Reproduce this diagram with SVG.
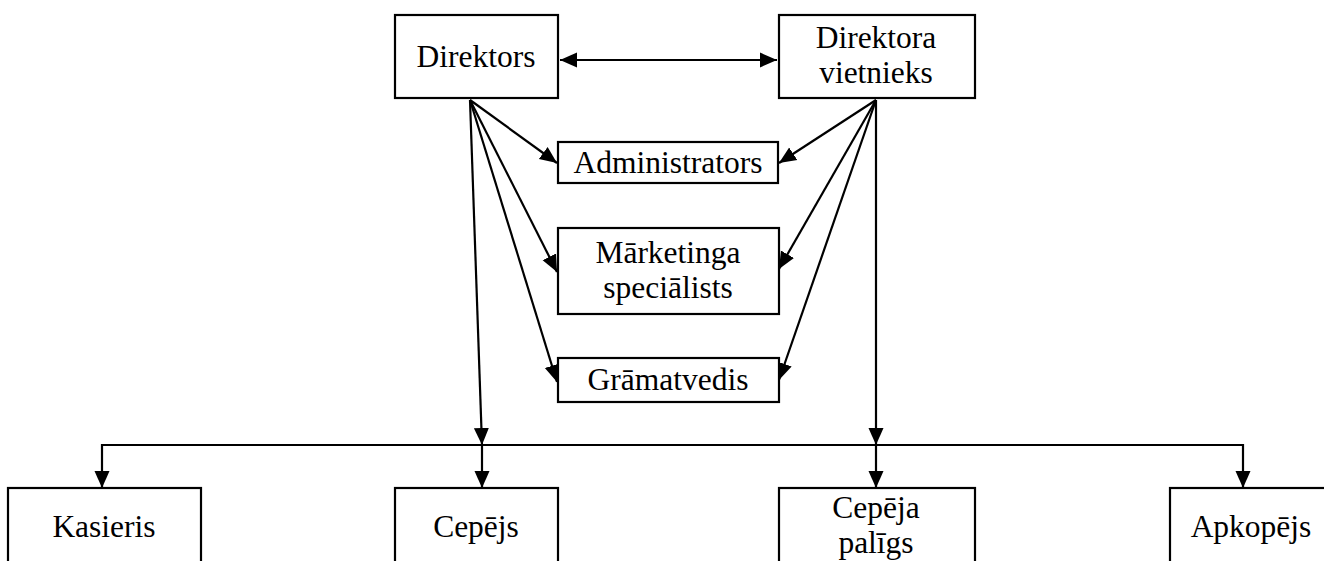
<svg xmlns="http://www.w3.org/2000/svg" width="1324" height="561" viewBox="0 0 1324 561">
<style>
.box{fill:#fff;stroke:#000;stroke-width:2.2}
.t{font-family:"Liberation Serif","Times New Roman",serif;font-size:31.5px;fill:#000;text-anchor:middle}
.c{fill:none;stroke:#000;stroke-width:2.2}
</style>
<defs>
<marker id="ah" markerUnits="userSpaceOnUse" markerWidth="18" markerHeight="18" viewBox="0 0 18 18" refX="17" refY="9" orient="auto-start-reverse">
<path d="M0,1.5 L17,9 L0,16.5 Z" fill="#000"/>
</marker>
</defs>
<rect width="1324" height="561" fill="#fff"/>
<g id="connectors">
<line class="c" x1="560" y1="60" x2="777" y2="60" marker-start="url(#ah)" marker-end="url(#ah)"/>
<line class="c" x1="470" y1="100" x2="557" y2="163" marker-end="url(#ah)"/>
<line class="c" x1="470" y1="100" x2="557" y2="272" marker-end="url(#ah)"/>
<line class="c" x1="470" y1="100" x2="557" y2="382" marker-end="url(#ah)"/>
<line class="c" x1="470" y1="100" x2="482" y2="445" marker-end="url(#ah)"/>
<line class="c" x1="876" y1="100" x2="779" y2="163" marker-end="url(#ah)"/>
<line class="c" x1="876" y1="100" x2="779" y2="269" marker-end="url(#ah)"/>
<line class="c" x1="876" y1="100" x2="779" y2="380" marker-end="url(#ah)"/>
<line class="c" x1="876" y1="100" x2="876" y2="445" marker-end="url(#ah)"/>
<line class="c" x1="101" y1="445" x2="1243" y2="445"/>
<line class="c" x1="102" y1="444" x2="102" y2="488" marker-end="url(#ah)"/>
<line class="c" x1="482" y1="445" x2="482" y2="488" marker-end="url(#ah)"/>
<line class="c" x1="876" y1="445" x2="876" y2="488" marker-end="url(#ah)"/>
<line class="c" x1="1243" y1="444" x2="1243" y2="488" marker-end="url(#ah)"/>
</g>
<g id="direktors"><rect class="box" x="395" y="15" width="163" height="83"/><text class="t" x="476" y="67">Direktors</text></g>
<g id="vietnieks"><rect class="box" x="779" y="15" width="196" height="83"/><text class="t" x="876" y="48">Direktora</text><text class="t" x="876" y="83">vietnieks</text></g>
<g id="administrators"><rect class="box" x="558" y="142" width="220" height="41"/><text class="t" x="668" y="173">Administrators</text></g>
<g id="marketinga"><rect class="box" x="558" y="228" width="221" height="86"/><text class="t" x="668" y="263">Mārketinga</text><text class="t" x="668" y="298">speciālists</text></g>
<g id="gramatvedis"><rect class="box" x="558" y="358" width="221" height="44"/><text class="t" x="668" y="390">Grāmatvedis</text></g>
<g id="kasieris"><rect class="box" x="8" y="488" width="193" height="100"/><text class="t" x="104" y="537">Kasieris</text></g>
<g id="cepejs"><rect class="box" x="395" y="488" width="163" height="100"/><text class="t" x="476" y="537">Cepējs</text></g>
<g id="cepeja-paligs"><rect class="box" x="779" y="488" width="196" height="100"/><text class="t" x="876" y="518">Cepēja</text><text class="t" x="876" y="553">palīgs</text></g>
<g id="apkopejs"><rect class="box" x="1170" y="488" width="196" height="100"/><text class="t" x="1251" y="537">Apkopējs</text></g>
</svg>
